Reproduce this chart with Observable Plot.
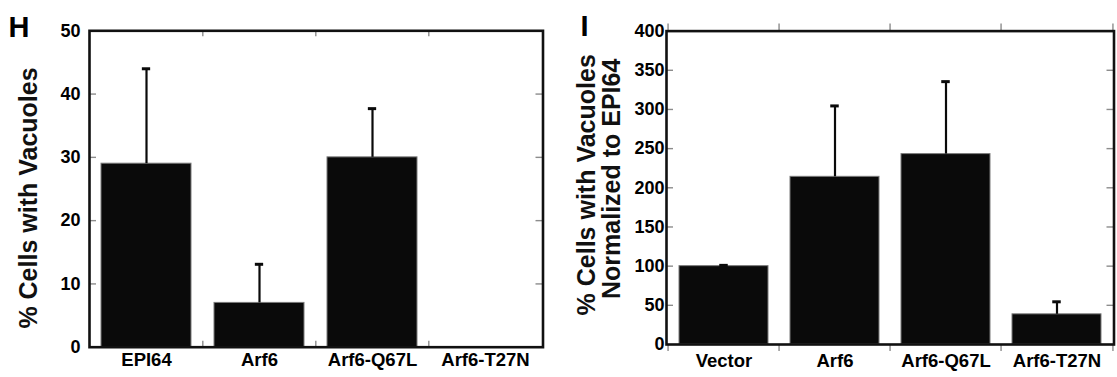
<!DOCTYPE html>
<html><head><meta charset="utf-8">
<script src="https://cdn.jsdelivr.net/npm/d3@7"></script>
<script src="https://cdn.jsdelivr.net/npm/@observablehq/plot@0.6"></script>
<style>
html,body{margin:0;padding:0;background:#fff;}
#wrap{position:relative;width:1117px;height:377px;overflow:hidden;background:#fff;}
#ph,#pi{position:absolute;top:0;}
#ph{left:0;} #pi{left:558px;}
</style></head><body>
<div id="wrap"><div id="ph"></div><div id="pi"></div></div>
<script>
// ---- data ----
const categoriesH = ["EPI64", "Arf6", "Arf6-Q67L", "Arf6-T27N"];
const valuesH = [29, 7, 30, 0];
const errorsH = [15, 6.1, 7.7, 0];
const yTicksH = [0, 10, 20, 30, 40, 50];
const titleH = ["% Cells with Vacuoles"];
const letterH = "H";

const categoriesI = ["Vector", "Arf6", "Arf6-Q67L", "Arf6-T27N"];
const valuesI = [100, 214, 243, 38.5];
const errorsI = [1, 90.5, 92.5, 16];
const yTicksI = [0, 50, 100, 150, 200, 250, 300, 350, 400];
const titleI = ["% Cells with Vacuoles", "Normalized to EPI64"];
const letterI = "I";

const FONT = "'Liberation Sans', Arial, Helvetica, sans-serif";

function panel(cfg) {
  const {cats, vals, errs, yTicks, W, H, mL, mR, mT, mB, xPad, yPad, outTicks,
         letter, letterDx, letterDy, titles} = cfg;
  const rows = cats.map((c, i) => ({cat: c, value: vals[i], err: errs[i]}));
  const withErr = rows.filter(d => d.err > 0);
  const plotW = W - mL - mR, plotH = H - mT - mB;
  const step = plotW / cats.length; // paddingInner 0.2, paddingOuter 0.1
  const bw = 0.8 * step;
  const capInset = (bw - 9) / 2;
  const yMin = yTicks[0], yMax = yTicks[yTicks.length - 1];
  const innerY = yTicks.filter(t => t > yMin && t < yMax);
  const tickColor = "#8c8c8c";
  const marks = [
    Plot.barY(rows, {x: "cat", y: "value", fill: "#0a0a0a", stroke: "#7a7a7a", strokeWidth: 1}),
    Plot.ruleX(withErr, {x: "cat", y1: "value", y2: d => d.value + d.err, stroke: "#0a0a0a", strokeWidth: 2.2}),
    Plot.tickY(withErr, {x: "cat", y: d => d.value + d.err, stroke: "#0a0a0a", strokeWidth: 3, insetLeft: capInset, insetRight: capInset}),
    // inward y ticks, left and right
    Plot.tickY(innerY, {y: d => d, stroke: tickColor, strokeWidth: 1.4, insetRight: plotW - 7}),
    Plot.tickY(innerY, {y: d => d, stroke: tickColor, strokeWidth: 1.4, insetLeft: plotW - 7}),
  ];
  if (outTicks) {
    // outward ticks at every band boundary (top and bottom)
    marks.push(
      Plot.ruleX(cats, {x: d => d, dx: -step / 2, stroke: tickColor, strokeWidth: 1.4, insetTop: plotH, insetBottom: -7}),
      Plot.ruleX(cats.slice(-1), {x: d => d, dx: step / 2, stroke: tickColor, strokeWidth: 1.4, insetTop: plotH, insetBottom: -7}),
      Plot.ruleX(cats, {x: d => d, dx: -step / 2, stroke: tickColor, strokeWidth: 1.4, insetTop: -7, insetBottom: plotH}),
      Plot.ruleX(cats.slice(-1), {x: d => d, dx: step / 2, stroke: tickColor, strokeWidth: 1.4, insetTop: -7, insetBottom: plotH})
    );
  } else {
    // inward ticks at interior band boundaries
    marks.push(
      Plot.ruleX(cats.slice(1), {x: d => d, dx: -step / 2, stroke: tickColor, strokeWidth: 1.4, insetTop: plotH - 6}),
      Plot.ruleX(cats.slice(1), {x: d => d, dx: -step / 2, stroke: tickColor, strokeWidth: 1.4, insetBottom: plotH - 6})
    );
  }
  marks.push(
    Plot.frame({stroke: "#111", strokeWidth: 2.6}),
    Plot.axisX({tickSize: 0, tickPadding: xPad, fontSize: 18.5, fontWeight: "bold", label: null}),
    Plot.axisY({ticks: yTicks, tickSize: 0, tickPadding: yPad, fontSize: 18, fontWeight: "bold", label: null}),
    Plot.text([letter], {frameAnchor: "top-left", textAnchor: "start", lineAnchor: "bottom",
      dx: letterDx, dy: letterDy, fontSize: 29, fontWeight: "bold", fill: "#000"})
  );
  titles.forEach(t => {
    marks.push(Plot.text([t.text], {frameAnchor: "left", textAnchor: "middle", lineAnchor: "middle",
      rotate: -90, dx: t.dx, dy: t.dy, fontSize: 25, fontWeight: "bold", fill: "#111"}));
  });
  return Plot.plot({
    width: W, height: H,
    marginLeft: mL, marginRight: mR, marginTop: mT, marginBottom: mB,
    style: {fontFamily: FONT, color: "#000", background: "transparent", overflow: "visible"},
    x: {domain: cats, paddingInner: 0.2, paddingOuter: 0.1, align: 0.5, label: null},
    y: {domain: [yMin, yMax], label: null},
    marks
  });
}

document.getElementById("ph").append(panel({
  cats: categoriesH, vals: valuesH, errs: errorsH, yTicks: yTicksH,
  W: 558, H: 377, mL: 89, mR: 15.5, mT: 30.3, mB: 30.3, xPad: 6, yPad: 9, outTicks: false,
  letter: letterH, letterDx: -81, letterDy: 5.7,
  titles: [{text: titleH[0], dx: -61, dy: 9}]
}));

document.getElementById("pi").append(panel({
  cats: categoriesI, vals: valuesI, errs: errorsI, yTicks: yTicksI,
  W: 559, H: 377, mL: 108, mR: 3.5, mT: 30.6, mB: 33, xPad: 9, yPad: 2, outTicks: true,
  letter: letterI, letterDx: -86, letterDy: 4.4,
  titles: [{text: titleI[0], dx: -79.7, dy: -3}, {text: titleI[1], dx: -54.8, dy: -9}]
}));
</script>
</body></html>
